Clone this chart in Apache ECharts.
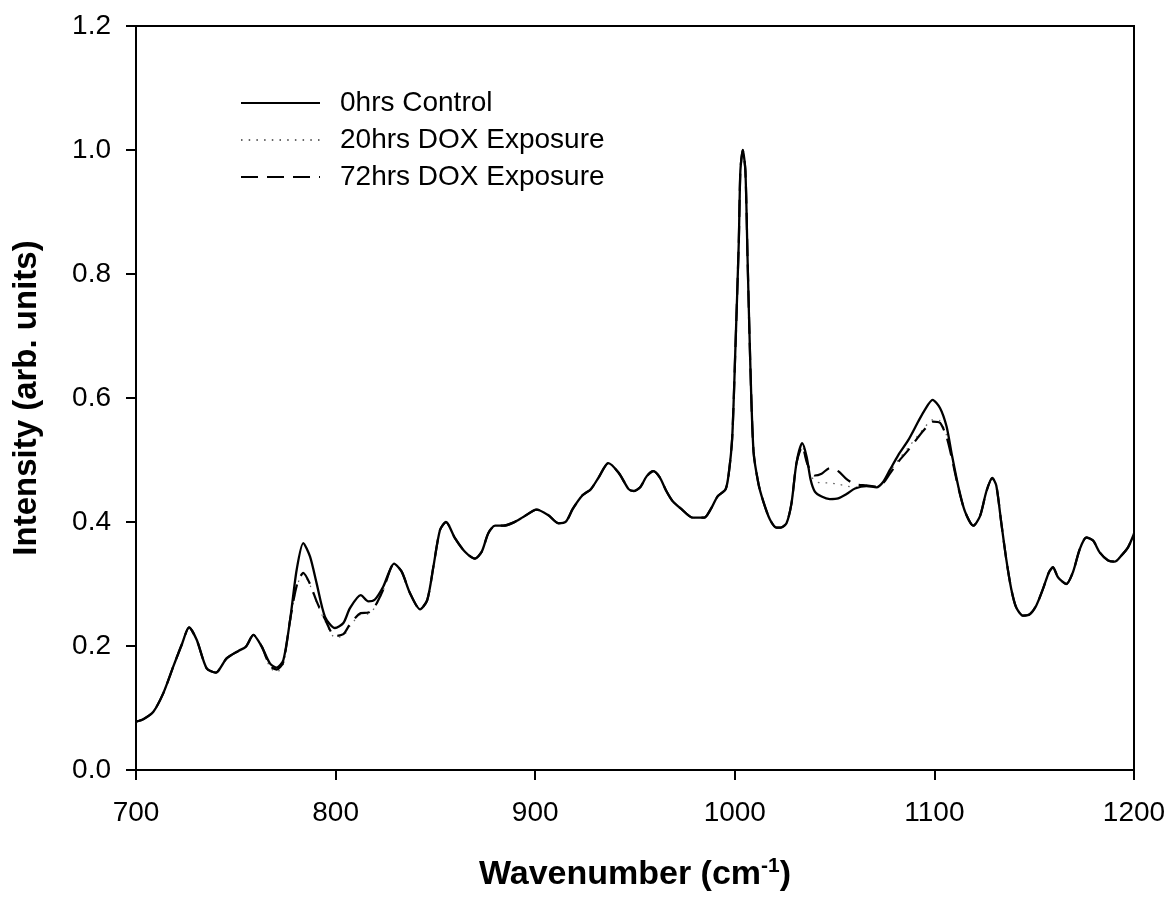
<!DOCTYPE html>
<html>
<head>
<meta charset="utf-8">
<script src="https://cdn.jsdelivr.net/npm/echarts@6/dist/echarts.min.js"></script>
<style>
html,body{margin:0;padding:0;background:#fff;}
#chart{width:1172px;height:901px;}
</style>
</head>
<body>
<div id="chart"></div>
<script>
// Wavenumber grid (cm-1)
const wavenumbers = [700,703.7,708.7,713.7,718.7,722.9,726.6,730.4,735.4,740,745.4,751.3,755.1,758.8,763,767.1,770.5,773.8,777.2,780.5,783.8,787.2,790.5,794.7,799.7,803.9,807.2,812.6,816.4,819.7,823.9,829.3,833.1,837.3,842.3,845.9,849,852.3,855.3,859.8,864.8,869.8,873.2,876.5,879.9,884,889,894,900.7,906.6,911.6,915.5,918.8,923.7,927.9,932,936.6,941.9,946.8,949.3,952.6,955.9,959.2,962.4,965.7,969,973.2,978.9,984.7,988,991.3,995.4,997,998.7,1000.3,1002,1002.8,1004,1005.3,1006.4,1007.8,1009.4,1011.9,1014.3,1017.6,1020.9,1023,1025.9,1028.4,1030.9,1033.8,1036,1038,1040.1,1043.5,1047.6,1051.8,1056,1060.2,1066,1071,1074.4,1077.7,1081.9,1086.9,1091.9,1095.2,1099.1,1102.8,1106.1,1108.6,1112,1115.3,1119.5,1122.8,1126.1,1129,1131,1133.5,1136,1138.5,1141,1144.4,1147.7,1151,1154.4,1157.4,1159.4,1161.9,1166.1,1169.4,1172.8,1176.1,1179.5,1182.8,1187,1190.3,1193.7,1197,1200];

const control0h = [0.078,0.082,0.094,0.124,0.167,0.202,0.230,0.210,0.164,0.157,0.180,0.192,0.199,0.218,0.199,0.172,0.165,0.177,0.242,0.323,0.366,0.344,0.301,0.247,0.229,0.237,0.261,0.282,0.272,0.275,0.296,0.333,0.320,0.285,0.259,0.274,0.328,0.387,0.400,0.374,0.352,0.341,0.352,0.382,0.394,0.394,0.399,0.408,0.420,0.411,0.398,0.401,0.421,0.443,0.453,0.473,0.495,0.479,0.453,0.450,0.456,0.474,0.482,0.472,0.450,0.433,0.421,0.407,0.407,0.421,0.441,0.453,0.479,0.536,0.680,0.852,0.967,1.000,0.967,0.824,0.651,0.513,0.461,0.433,0.404,0.391,0.391,0.398,0.430,0.495,0.527,0.505,0.468,0.449,0.441,0.437,0.438,0.445,0.454,0.458,0.456,0.465,0.484,0.508,0.532,0.562,0.581,0.597,0.584,0.554,0.511,0.457,0.417,0.394,0.409,0.450,0.471,0.459,0.399,0.340,0.292,0.262,0.249,0.251,0.265,0.292,0.319,0.327,0.311,0.300,0.319,0.356,0.375,0.370,0.351,0.338,0.336,0.346,0.359,0.381];

const dox20h = [0.078,0.082,0.094,0.124,0.167,0.202,0.230,0.210,0.164,0.157,0.180,0.192,0.199,0.218,0.198,0.166,0.158,0.170,0.238,0.296,0.316,0.298,0.270,0.240,0.214,0.216,0.232,0.251,0.252,0.262,0.290,0.333,0.320,0.285,0.259,0.274,0.328,0.387,0.400,0.374,0.352,0.341,0.352,0.382,0.394,0.394,0.399,0.408,0.420,0.411,0.398,0.401,0.421,0.443,0.453,0.473,0.495,0.479,0.453,0.450,0.456,0.474,0.482,0.472,0.450,0.433,0.421,0.407,0.407,0.421,0.441,0.453,0.479,0.536,0.680,0.852,0.967,1.000,0.967,0.824,0.651,0.513,0.461,0.433,0.404,0.391,0.391,0.398,0.430,0.495,0.522,0.495,0.476,0.466,0.463,0.463,0.461,0.458,0.456,0.458,0.457,0.463,0.481,0.500,0.520,0.540,0.553,0.565,0.563,0.540,0.507,0.456,0.417,0.394,0.409,0.450,0.471,0.459,0.399,0.340,0.292,0.262,0.249,0.251,0.265,0.292,0.319,0.327,0.311,0.300,0.319,0.356,0.375,0.370,0.351,0.338,0.336,0.346,0.359,0.381];

const dox72h = [0.078,0.082,0.094,0.124,0.167,0.202,0.230,0.210,0.164,0.157,0.180,0.192,0.199,0.218,0.199,0.168,0.162,0.174,0.242,0.297,0.318,0.300,0.272,0.243,0.216,0.219,0.235,0.253,0.254,0.264,0.291,0.333,0.320,0.285,0.259,0.274,0.328,0.387,0.400,0.374,0.352,0.341,0.352,0.382,0.394,0.394,0.399,0.408,0.420,0.411,0.398,0.401,0.421,0.443,0.453,0.473,0.495,0.479,0.453,0.450,0.456,0.474,0.482,0.472,0.450,0.433,0.421,0.407,0.407,0.421,0.441,0.453,0.479,0.536,0.680,0.852,0.967,1.000,0.967,0.824,0.651,0.513,0.461,0.433,0.404,0.391,0.391,0.398,0.430,0.495,0.522,0.497,0.482,0.475,0.478,0.487,0.482,0.469,0.461,0.459,0.457,0.463,0.478,0.497,0.516,0.537,0.550,0.562,0.560,0.537,0.505,0.455,0.417,0.394,0.409,0.450,0.471,0.459,0.399,0.340,0.292,0.262,0.249,0.251,0.265,0.292,0.319,0.327,0.311,0.300,0.319,0.356,0.375,0.370,0.351,0.338,0.336,0.346,0.359,0.381];

const seriesNames = ['0hrs Control', '20hrs DOX Exposure', '72hrs DOX Exposure'];
const xTitle = 'Wavenumber (cm{sup|-1})';
const yTitle = 'Intensity (arb. units)';

function pairs(vals){ return wavenumbers.map((w,i)=>[w, vals[i]]); }

const FONT = '"Liberation Sans", Arial, sans-serif';
const chart = echarts.init(document.getElementById('chart'), null, {renderer:'canvas'});
chart.setOption({
  animation: false,
  backgroundColor: '#fff',
  grid: { left: 136, right: 38, top: 26, bottom: 131, show: true, borderColor: '#000', borderWidth: 2, containLabel: false },
  legend: {
    data: seriesNames,
    orient: 'vertical',
    left: 240, top: 89,
    itemWidth: 79, itemHeight: 14, itemGap: 9,
    padding: 0,
    itemStyle: { opacity: 0 },
    textStyle: { fontFamily: FONT, fontSize: 28, color: '#000', padding: [0,0,0,15] }
  },
  xAxis: {
    type: 'value', min: 700, max: 1200, interval: 100,
    name: xTitle, nameLocation: 'middle', nameGap: 86,
    nameTextStyle: { fontFamily: FONT, fontSize: 34, fontWeight: 'bold', color: '#000',
      rich: { sup: { fontFamily: FONT, fontSize: 21, fontWeight: 'bold', color:'#000', verticalAlign: 'top', padding:[0,0,16,0] } } },
    axisLine: { show: true, lineStyle: { color: '#000', width: 2 } },
    axisTick: { show: true, inside: false, length: 10, lineStyle: { color: '#000', width: 2 } },
    axisLabel: { fontFamily: FONT, fontSize: 28, color: '#000', margin: 29, formatter: v => String(v) },
    splitLine: { show: false }
  },
  yAxis: {
    type: 'value', min: 0, max: 1.2, interval: 0.2,
    name: yTitle, nameLocation: 'middle', nameGap: 93,
    nameTextStyle: { fontFamily: FONT, fontSize: 33, fontWeight: 'bold', color: '#000' },
    axisLine: { show: true, lineStyle: { color: '#000', width: 2 } },
    axisTick: { show: true, inside: false, length: 10, lineStyle: { color: '#000', width: 2 } },
    axisLabel: { fontFamily: FONT, fontSize: 28, color: '#000', margin: 25, formatter: v => v.toFixed(1) },
    splitLine: { show: false }
  },
  series: [
    { name: seriesNames[0], type: 'line', data: pairs(control0h), symbol: 'none', smooth: 0.25, z: 4,
      lineStyle: { color: '#000', width: 2.3 }, itemStyle: { color: '#000' } },
    { name: seriesNames[1], type: 'line', data: pairs(dox20h), symbol: 'none', smooth: 0.25, z: 2,
      lineStyle: { color: '#666', width: 1.3, type: [1.5, 6.2] }, itemStyle: { color: '#666' } },
    { name: seriesNames[2], type: 'line', data: pairs(dox72h), symbol: 'none', smooth: 0.25, z: 3,
      lineStyle: { color: '#000', width: 2.2, type: [17, 9] }, itemStyle: { color: '#000' } }
  ]
});
</script>
</body>
</html>
